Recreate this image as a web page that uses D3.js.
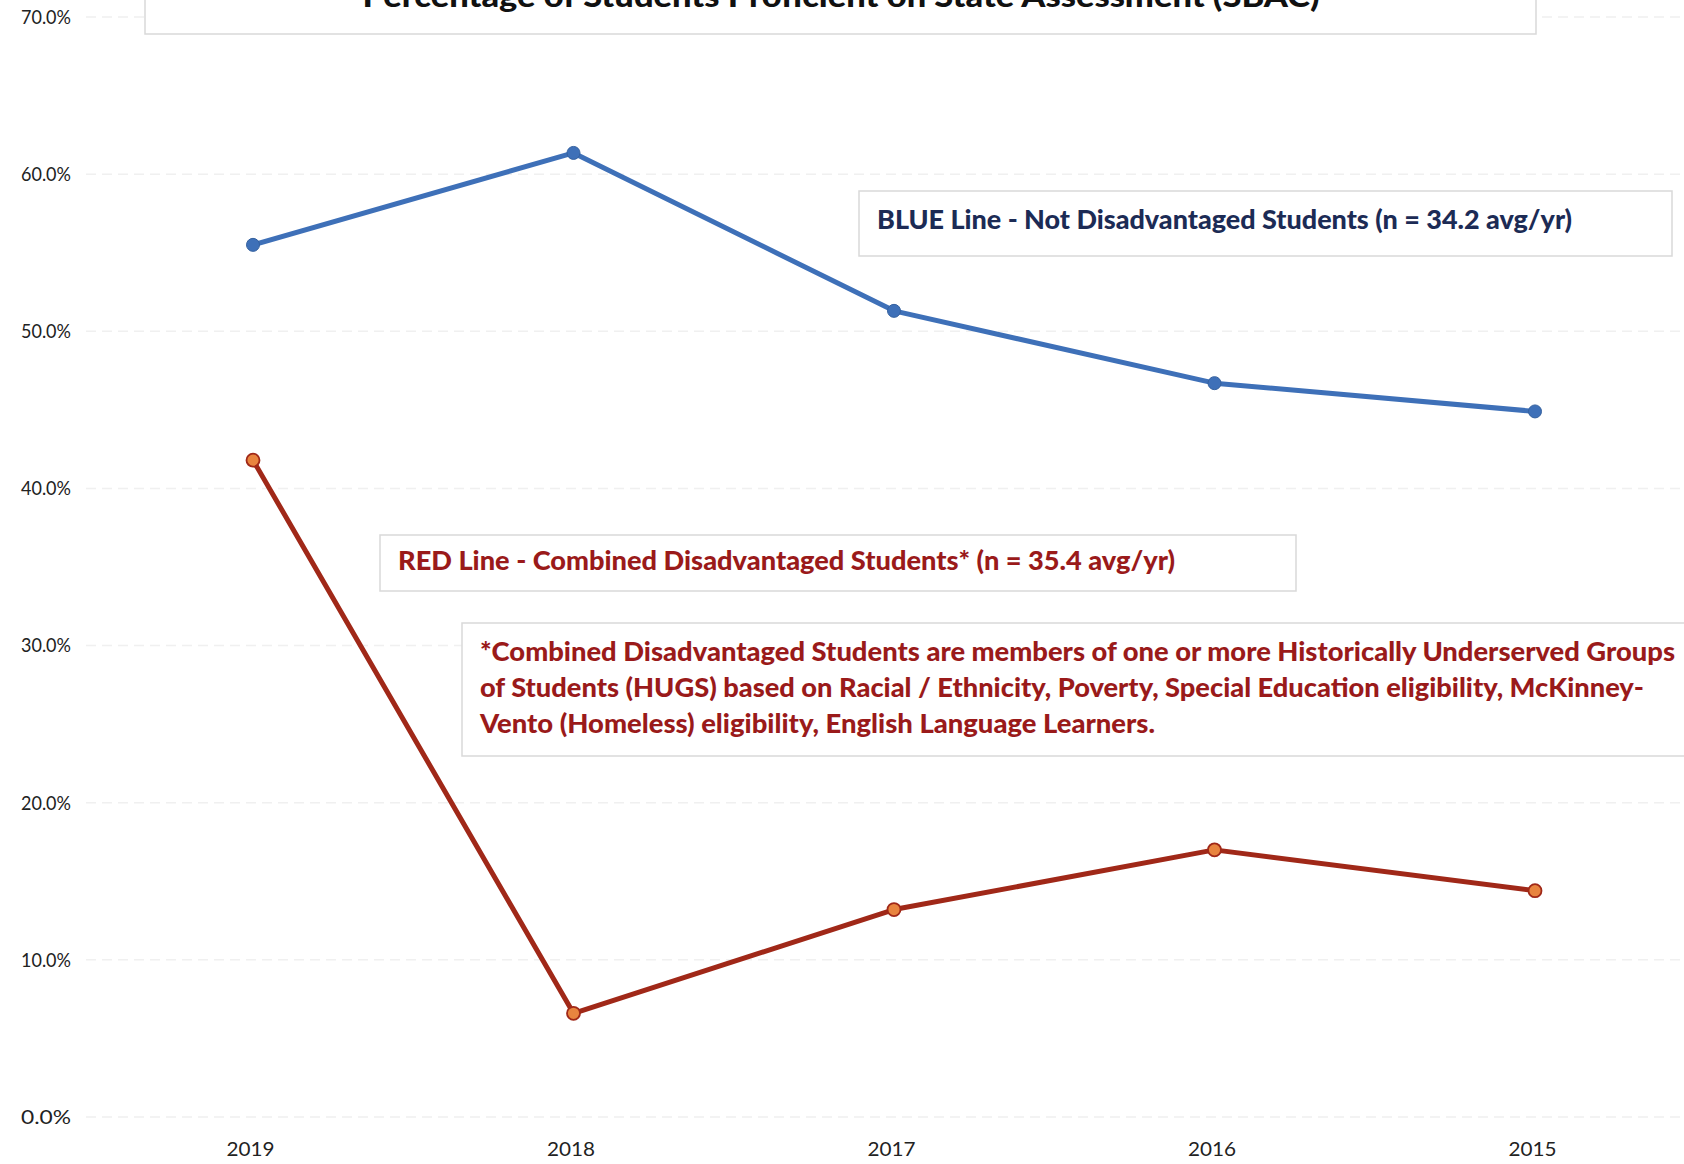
<!DOCTYPE html>
<html><head><meta charset="utf-8">
<script src="https://cdn.jsdelivr.net/npm/d3@7"></script>
<style>body{margin:0;background:#fff}svg{display:block}</style>
</head><body>
<script>
const years = ["2019","2018","2017","2016","2015"];
const blueValues = [55.5, 61.35, 51.3, 46.7, 44.9];
const redValues = [41.8, 6.6, 13.2, 17.0, 14.4];
const yTicks = [0,10,20,30,40,50,60,70];
const titleText = "Percentage of Students Proficient on State Assessment (SBAC)";
const blueLabel = "BLUE Line - Not Disadvantaged Students (n = 34.2 avg/yr)";
const redLabel = "RED Line - Combined Disadvantaged Students* (n = 35.4 avg/yr)";
const noteLines = [
  "*Combined Disadvantaged Students are members of one or more Historically Underserved Groups",
  "of Students (HUGS) based on Racial / Ethnicity, Poverty, Special Education eligibility, McKinney-",
  "Vento (Homeless) eligibility, English Language Learners."
];

const W = 1684, H = 1164;
const svg = d3.select("body").append("svg").attr("width", W).attr("height", H);
const font = "Lato, 'Open Sans', sans-serif";

const x = d3.scalePoint().domain(years).range([253, 1535]);
const y = d3.scaleLinear().domain([0, 70]).range([1117, 17]);

// gridlines
svg.append("g").selectAll("line").data(yTicks).join("line")
  .attr("x1", 86).attr("x2", W).attr("y1", d => y(d)).attr("y2", d => y(d))
  .attr("stroke", "#f0f0f0").attr("stroke-width", 1.5).attr("stroke-dasharray", "10,6");

// y axis labels
const yAxis = d3.axisLeft(y).tickValues(yTicks).tickFormat(d => d.toFixed(1) + "%").tickSize(0).tickPadding(0);
const gy = svg.append("g").attr("transform", "translate(71,0)").call(yAxis);
gy.select(".domain").remove();
gy.selectAll("text").attr("font-family", font).attr("font-size", 20).attr("fill", "#222")
  .attr("textLength", 50).attr("lengthAdjust", "spacingAndGlyphs");

// x axis labels
const xAxis = d3.axisBottom(x).tickSize(0).tickPadding(0);
const gx = svg.append("g").attr("transform", "translate(-3,1142)").call(xAxis);
gx.select(".domain").remove();
gx.selectAll("text").attr("font-family", font).attr("font-size", 20).attr("fill", "#222")
  .attr("textLength", 48).attr("lengthAdjust", "spacingAndGlyphs");

// title box
svg.append("rect").attr("x", 145).attr("y", -10).attr("width", 1391).attr("height", 44)
  .attr("fill", "#fff").attr("stroke", "#d9d9d9").attr("stroke-width", 1.5);
svg.append("text").attr("x", 841).attr("y", 7).attr("text-anchor", "middle")
  .attr("font-family", font).attr("font-weight", 900).attr("font-size", 30).attr("fill", "#111")
  .attr("textLength", 957).attr("lengthAdjust", "spacingAndGlyphs").text(titleText);

// lines
const line = d3.line().x((d, i) => x(years[i])).y(d => y(d));
svg.append("path").datum(blueValues).attr("d", line).attr("fill", "none")
  .attr("stroke", "#3e70b8").attr("stroke-width", 5).attr("stroke-linejoin", "round");
svg.append("g").selectAll("circle").data(blueValues).join("circle")
  .attr("cx", (d, i) => x(years[i])).attr("cy", d => y(d)).attr("r", 6.5)
  .attr("fill", "#3e70b8").attr("stroke", "#35619f").attr("stroke-width", 1);

svg.append("path").datum(redValues).attr("d", line).attr("fill", "none")
  .attr("stroke", "#a02818").attr("stroke-width", 5).attr("stroke-linejoin", "round");
svg.append("g").selectAll("circle").data(redValues).join("circle")
  .attr("cx", (d, i) => x(years[i])).attr("cy", d => y(d)).attr("r", 6.5)
  .attr("fill", "#e8843f").attr("stroke", "#a02818").attr("stroke-width", 1.8);

// blue label box
svg.append("rect").attr("x", 859).attr("y", 191).attr("width", 813).attr("height", 65)
  .attr("fill", "#fff").attr("stroke", "#d9d9d9").attr("stroke-width", 1.5);
svg.append("text").attr("x", 877).attr("y", 229).attr("font-family", font).attr("font-weight", 900)
  .attr("font-size", 26).attr("fill", "#1c2b55").attr("textLength", 695).attr("lengthAdjust", "spacingAndGlyphs")
  .text(blueLabel);

// red label box
svg.append("rect").attr("x", 380).attr("y", 535).attr("width", 916).attr("height", 56)
  .attr("fill", "#fff").attr("stroke", "#d9d9d9").attr("stroke-width", 1.5);
svg.append("text").attr("x", 398).attr("y", 570).attr("font-family", font).attr("font-weight", 900)
  .attr("font-size", 26).attr("fill", "#9a1a1a").attr("textLength", 777).attr("lengthAdjust", "spacingAndGlyphs")
  .text(redLabel);

// note box
svg.append("rect").attr("x", 462).attr("y", 623).attr("width", 1240).attr("height", 133)
  .attr("fill", "#fff").attr("stroke", "#d9d9d9").attr("stroke-width", 1.5);
const noteLens = [1195, 1164, 675];
svg.append("g").selectAll("text").data(noteLines).join("text")
  .attr("x", 480).attr("y", (d, i) => 661 + i * 36)
  .attr("font-family", font).attr("font-weight", 900).attr("font-size", 26).attr("fill", "#9a1a1a")
  .attr("textLength", (d, i) => noteLens[i]).attr("lengthAdjust", "spacingAndGlyphs")
  .text(d => d);
</script>
</body></html>
